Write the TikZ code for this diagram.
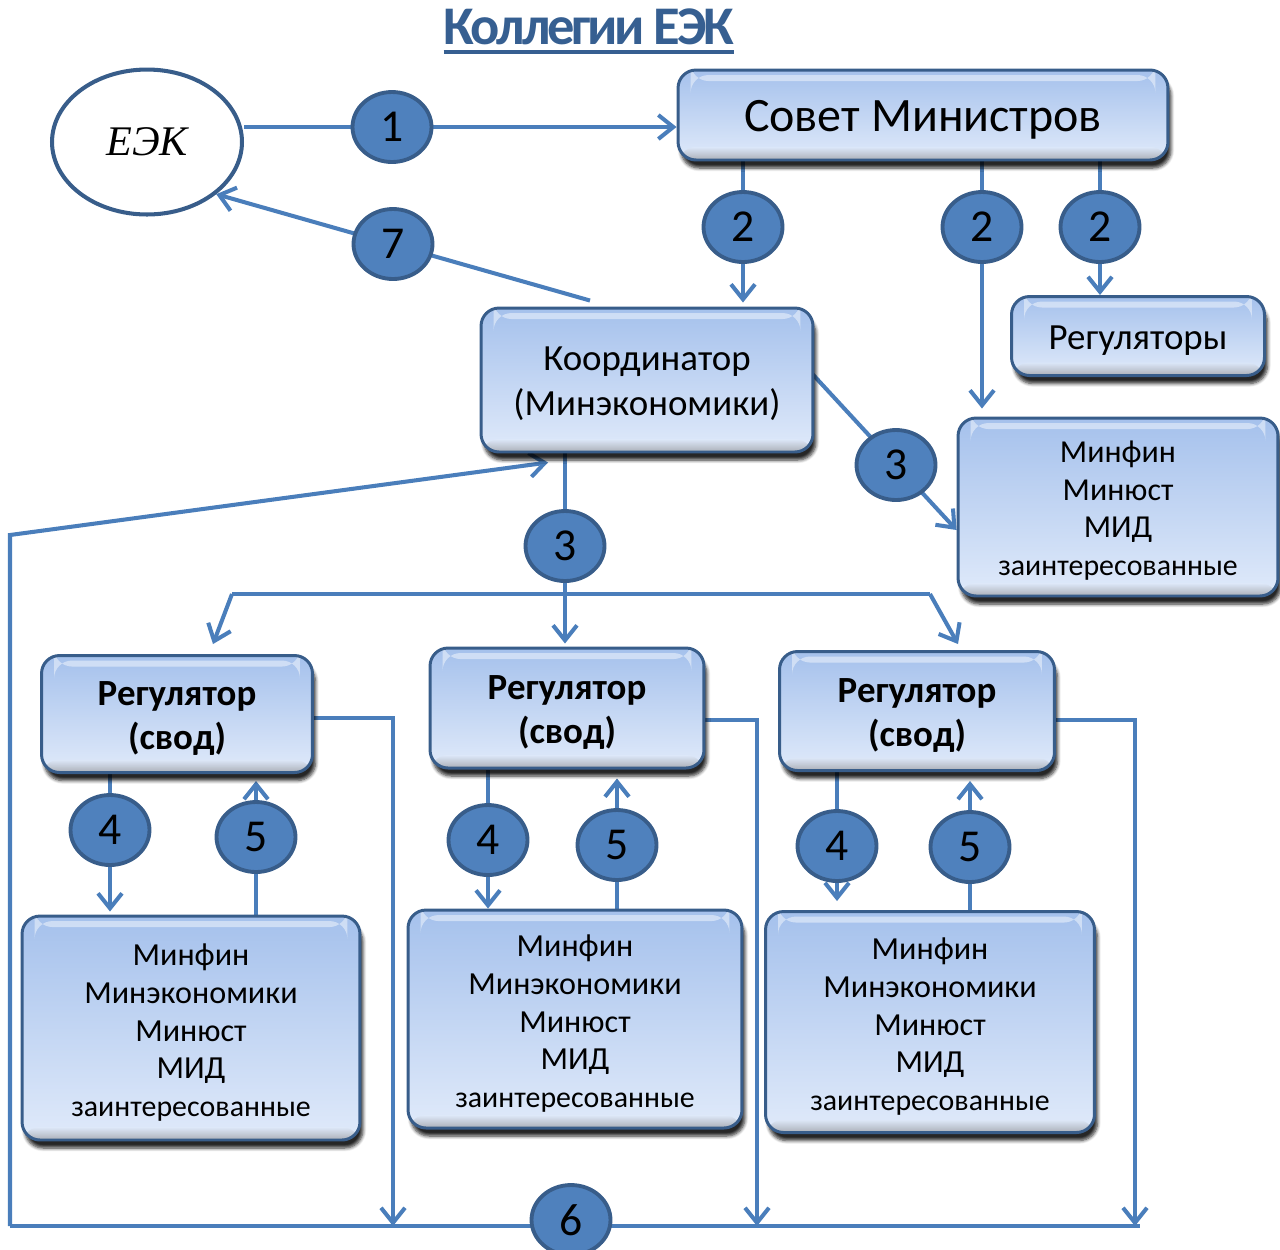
\documentclass[tikz,border=0pt]{standalone}
\usepackage{fontspec}
\setmainfont{Carlito}
\newfontfamily\serifit{Liberation Serif}
\usetikzlibrary{arrows.meta,shapes.geometric,shadows.blur,calc}
\pgfdeclarelayer{bg}\pgfsetlayers{bg,main}
\definecolor{lineblue}{RGB}{74,126,187}
\definecolor{mfill}{RGB}{79,129,189}
\definecolor{dborder}{RGB}{56,93,138}
\definecolor{btop}{RGB}{165,193,236}
\definecolor{bbot}{RGB}{224,234,250}
\definecolor{ttl}{RGB}{54,95,145}
\newcommand{\boxtxt}[2][0.09cm]{\raisebox{-#1}[\height][\depth]{\begin{tabular}{@{}c@{}}#2\end{tabular}}}
\newcommand{\smallz}{\fontsize{17}{21.5}\selectfont}
\tikzset{
 box/.style={draw=dborder, line width=1.7pt, rounded corners=0.36cm, top color=btop, bottom color=bbot,
   align=center, text=black, inner sep=0pt,
   blur shadow={shadow xshift=0.06cm, shadow yshift=-0.16cm, shadow blur steps=6, shadow opacity=85},
   path picture={
     \fill[white,opacity=.45] ([xshift=0.25cm,yshift=-0.1cm]path picture bounding box.north west) rectangle ([xshift=-0.25cm,yshift=-0.22cm]path picture bounding box.north east);
     \shade[top color=bbot, bottom color=black!50, opacity=.55] ([yshift=0.26cm]path picture bounding box.south west) rectangle (path picture bounding box.south east);
   }},
 numbadge/.style={ellipse, draw=dborder, line width=2.2pt, fill=mfill, inner sep=0pt,
   minimum width=1.58cm, minimum height=1.4cm, font=\fontsize{26}{26}\selectfont},
 conn/.style={draw=lineblue, line width=2.3pt},
 arr/.style={conn, -{Straight Barb[length=0.3cm,width=0.48cm]}}
}
\begin{document}
\begin{tikzpicture}[x=0.02cm,y=-0.02cm]
\useasboundingbox (0,0) rectangle (1280,1249);
% title
\node[font=\bfseries\fontsize{31}{31}\selectfont\addfontfeature{LetterSpace=-6}, text=ttl, inner sep=0pt] (title) at (589,27) {Коллегии ЕЭК};
\draw[ttl, line width=2.3pt] ([yshift=-0.14cm]title.base west) -- ([yshift=-0.14cm]title.base east);
% ellipse
\node[ellipse, draw=dborder, line width=2.3pt, minimum width=3.8cm, minimum height=2.9cm,
  font=\serifit\itshape\fontsize{24}{24}\selectfont] (eek) at (147,142) {ЕЭК};
% boxes
\node[box, minimum width=9.8cm, minimum height=1.8cm, font=\fontsize{27.3}{33}\selectfont] (sovet) at (923,115) {\boxtxt[0.1cm]{Совет Министров}};
\node[box, minimum width=6.64cm, minimum height=2.88cm, font=\fontsize{21}{25.5}\selectfont] (koord) at (647,380) {\boxtxt[0.08cm]{Координатор\\(Минэкономики)}};
\node[box, minimum width=5.06cm, minimum height=1.58cm, font=\fontsize{21}{25.5}\selectfont] (regs) at (1138,336) {\boxtxt[0.1cm]{Регуляторы}};
\node[box, minimum width=6.4cm, minimum height=3.56cm, font=\fontsize{18.2}{21.5}\selectfont] (minfinR) at (1118,507) {\boxtxt{Минфин\\Минюст\\МИД\\\smallz заинтересованные}};
\node[box, minimum width=5.42cm, minimum height=2.34cm, font=\bfseries\fontsize{21}{25.5}\selectfont] (reg1) at (177,714) {\boxtxt{Регулятор\\(свод)}};
\node[box, minimum width=5.48cm, minimum height=2.4cm, font=\bfseries\fontsize{21}{25.5}\selectfont] (reg2) at (567,708) {\boxtxt{Регулятор\\(свод)}};
\node[box, minimum width=5.5cm, minimum height=2.38cm, font=\bfseries\fontsize{21}{25.5}\selectfont] (reg3) at (917,711) {\boxtxt{Регулятор\\(свод)}};
\node[box, minimum width=6.76cm, minimum height=4.48cm, font=\fontsize{18.3}{21.5}\selectfont] (bot1) at (191,1028) {\boxtxt[0.11cm]{Минфин\\Минэкономики\\Минюст\\МИД\\\smallz заинтересованные}};
\node[box, minimum width=6.68cm, minimum height=4.36cm, font=\fontsize{18.3}{21.5}\selectfont] (bot2) at (575,1019) {\boxtxt[0.11cm]{Минфин\\Минэкономики\\Минюст\\МИД\\\smallz заинтересованные}};
\node[box, minimum width=6.58cm, minimum height=4.42cm, font=\fontsize{18.3}{21.5}\selectfont] (bot3) at (930,1022) {\boxtxt[0.11cm]{Минфин\\Минэкономики\\Минюст\\МИД\\\smallz заинтересованные}};
% markers
\node[numbadge] (m1) at (392,127) {1};
\node[numbadge] (m7) at (393,244) {7};
\node[numbadge] (m2a) at (743,227) {2};
\node[numbadge] (m2b) at (982,227) {2};
\node[numbadge] (m2c) at (1100,227) {2};
\node[numbadge] (m3a) at (896,465) {3};
\node[numbadge] (m3b) at (565,546) {3};
\node[numbadge] (m4a) at (110,830) {4};
\node[numbadge] (m5a) at (256,837) {5};
\node[numbadge] (m4b) at (488,840) {4};
\node[numbadge] (m5b) at (617,845) {5};
\node[numbadge] (m4c) at (837,846) {4};
\node[numbadge] (m5c) at (970,847) {5};
\node[numbadge] (m6) at (571,1220) {6};
% coordinates
\coordinate (brL) at (232,594);
\coordinate (brR) at (930,594);
\coordinate (lt) at (10,535);
\coordinate (lb) at (10,1226);
\coordinate (rb) at (1140,1226);
\coordinate (d1) at (393,1226);
\coordinate (d2) at (757,1226);
\coordinate (d3) at (1135,1226);
\begin{pgfonlayer}{bg}
\draw[arr] (eek.east |- m1) -- (sovet.west |- m1);
\draw[arr] ($(koord.north)+(-57,-6)$) -- (eek.-37);
\draw[arr] (m2a |- sovet.south) -- ($(m2a |- koord.north)+(0,-4)$);
\draw[arr] (m2b |- sovet.south) -- ($(m2b |- minfinR.north)+(0,-8)$);
\draw[arr] (m2c |- sovet.south) -- (m2c |- regs.north);
\draw[arr] ($(koord.east)+(-3,-7)$) -- ($(minfinR.west)+(0,23)$);
\draw[arr] (m3b |- koord.south) -- ($(m3b |- reg2.north)+(0,-3)$);
\draw[conn] (brL) -- (brR);
\draw[arr] (brL) -- ($(reg1.north)+(36,-10)$);
\draw[arr] (brR) -- ($(reg3.north)+(41,-6)$);
\draw[arr] (lb) -- (lt) -- ($(koord.south)+(-99,9)$);
\draw[conn] (lb) -- (rb);
\draw[arr] ($(reg1.east)+(0,4)$) -| (d1);
\draw[arr] ($(reg2.east)+(0,12)$) -| (d2);
\draw[arr] ($(reg3.east)+(0,9)$) -| (d3);
\draw[arr] (m4a |- reg1.south) -- ($(m4a |- bot1.north)+(0,-3)$);
\draw[arr] (m5a |- bot1.north) -- ($(m5a |- reg1.south)+(0,7)$);
\draw[arr] (m4b |- reg2.south) -- (m4b |- bot2.north);
\draw[arr] (m5b |- bot2.north) -- ($(m5b |- reg2.south)+(0,9)$);
\draw[arr] (m4c |- reg3.south) -- ($(m4c |- bot3.north)+(0,-9)$);
\draw[arr] (m5c |- bot3.north) -- ($(m5c |- reg3.south)+(0,9)$);
\end{pgfonlayer}
\end{tikzpicture}
\end{document}
